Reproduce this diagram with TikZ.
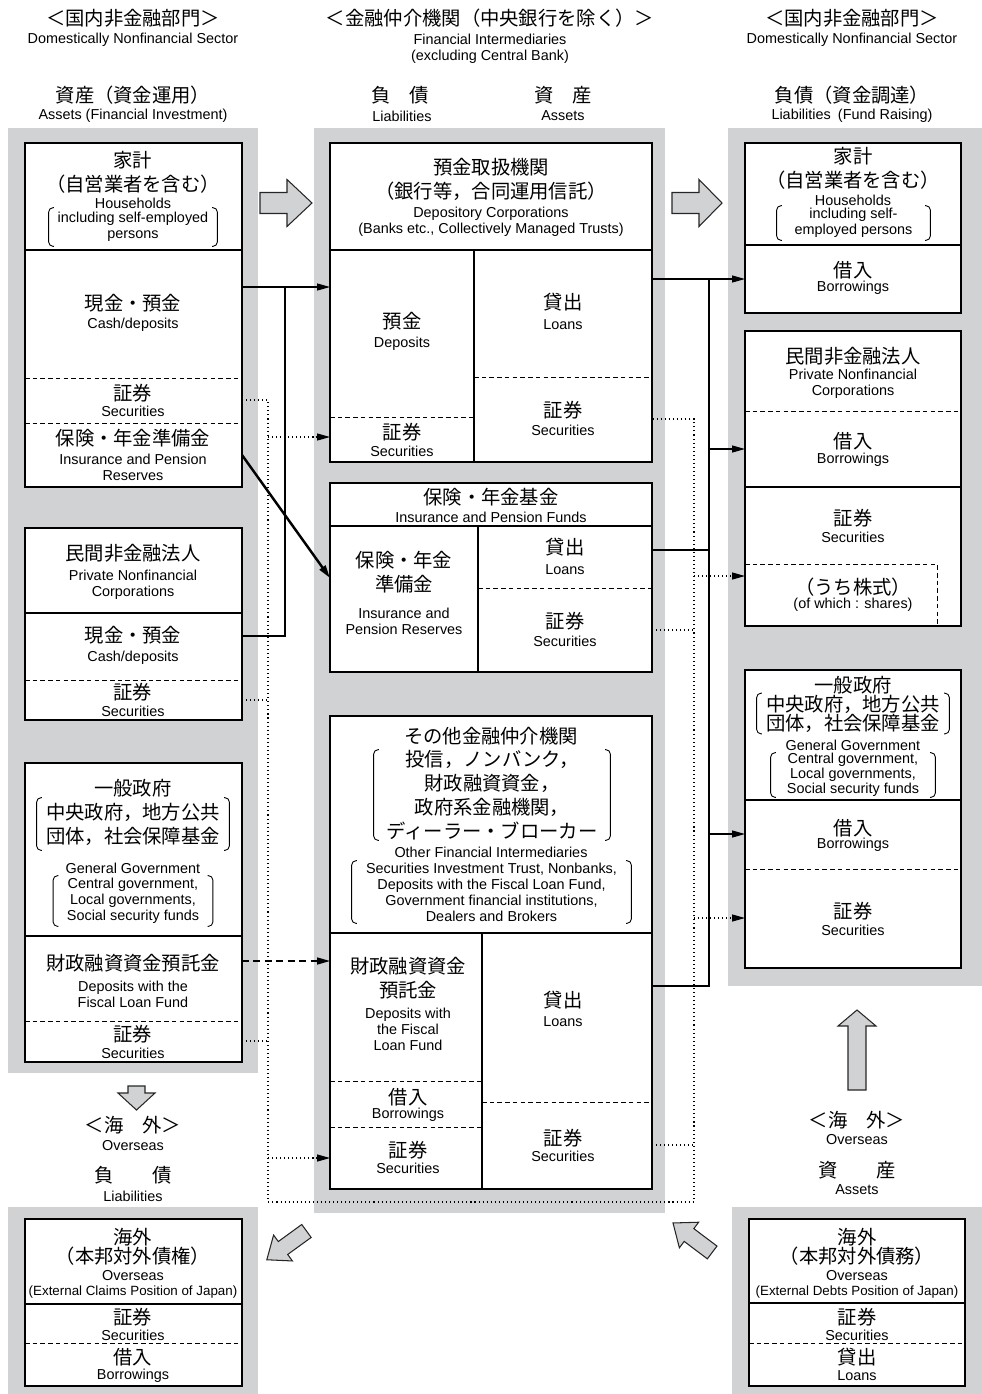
\documentclass[tikz,border=0pt]{standalone}
\usepackage{fontspec}
\setmainfont{Liberation Sans}
\newfontfamily\jpfont{Noto Sans CJK JP}
\usetikzlibrary{arrows.meta}

\definecolor{panelgray}{RGB}{209,210,212}
\newcommand{\jpsize}{\jpfont\fontsize{11}{13.6}\selectfont}
\newcommand{\jptight}{\jpfont\fontsize{11}{10.9}\selectfont\lineskiplimit=-20pt}
\newcommand{\ensize}{\fontsize{8.2}{9.07}\selectfont}
\newcommand{\entight}{\fontsize{8.2}{8.5}\selectfont\lineskiplimit=-20pt}
\newcommand{\ennarrow}{\fontsize{7.6}{9.07}\selectfont}

% round brackets drawn round a node
\newcommand{\drawparens}[1]{%
  \draw[line width=0.5pt, rounded corners=2.5pt]
    ([xshift=3pt]#1.north west) -- (#1.north west) -- (#1.south west) -- ([xshift=3pt]#1.south west)
    ([xshift=-3pt]#1.north east) -- (#1.north east) -- (#1.south east) -- ([xshift=-3pt]#1.south east);}

% fat gray arrow: origin (head base), angle, tail, head, half shaft, half head
\newcommand{\fatarrow}[6]{%
  \draw[fat, shift={#1}, rotate=#2] (-#3,-#5) -- (0,-#5) -- (0,-#6) -- (#4,0)
    -- (0,#6) -- (0,#5) -- (-#3,#5) -- cycle;}

\tikzset{
  jp/.style={font=\jpsize, align=center, inner sep=0pt},
  en/.style={font=\ensize, align=center, inner sep=0pt},
  brk/.style 2 args={minimum width=#1*0.02cm, minimum height=#2*0.02cm, inner sep=0pt},
  box/.style={draw, line width=1.1pt, fill=white},
  rule/.style={line width=0.6pt},
  dashrule/.style={line width=0.45pt, dash pattern=on 2.6pt off 1.8pt},
  link/.style={line width=0.6pt},
  flow/.style={line width=0.6pt, -{Triangle[length=7.4pt,width=4pt]}},
  dotline/.style={line width=0.6pt, dash pattern=on 0.6pt off 1.7pt},
  dotflow/.style={dotline, -{Triangle[length=7.4pt,width=4pt]}},
  dashflow/.style={line width=0.8pt, dash pattern=on 4pt off 2.5pt, -{Triangle[length=7.4pt,width=4pt]}},
  fat/.style={fill=panelgray, draw=black!85, line width=0.6pt, line join=miter},
}

\begin{document}
\begin{tikzpicture}[x=0.02cm, y=-0.02cm]
\useasboundingbox (0,0) rectangle (982,1394);

% Headers
\node[jp] (hLeft) at (133,18) {＜国内非金融部門＞};
\node[en] (hLeftEn) at (133,40) {Domestically Nonfinancial Sector};
\node[jp] (hMid) at (490,18) {＜金融仲介機関（中央銀行を除く）＞};
\node[en] (hMidEn) at (490,48.5) {Financial Intermediaries\\(excluding Central Bank)};
\node[jp] (hRight) at (852,18) {＜国内非金融部門＞};
\node[en] (hRightEn) at (852,40) {Domestically Nonfinancial Sector};

\node[jp] (sLeft) at (133,95) {資産（資金運用）};
\node[en] (sLeftEn) at (133,116) {Assets (Financial Investment)};
\node[jp] (sLiab) at (400,95) {負　債};
\node[en] (sLiabEn) at (402,116) {Liabilities};
\node[jp] (sAsset) at (563,95) {資　産};
\node[en] (sAssetEn) at (563,116) {Assets};
\node[jp] (sRight) at (852,95) {負債（資金調達）};
\node[en] (sRightEn) at (852,116) {Liabilities\enspace(Fund Raising)};

% Gray panels
\fill[panelgray] (8,128) rectangle (258,1073);
\fill[panelgray] (314,128) rectangle (665,1213);
\fill[panelgray] (728,128) rectangle (982,986);
\fill[panelgray] (8,1207) rectangle (258,1394);
\fill[panelgray] (732,1207) rectangle (982,1394);

% Boxes
\draw[box] (25,143) rectangle (242,487);
\draw[box] (25,528) rectangle (242,720);
\draw[box] (25,763) rectangle (242,1062);
\draw[box] (330,143) rectangle (652,462);
\draw[box] (330,483) rectangle (652,672);
\draw[box] (330,716) rectangle (652,1189);
\draw[box] (745,143) rectangle (961,313);
\draw[box] (745,331) rectangle (961,626);
\draw[box] (745,670) rectangle (961,968);
\draw[box] (25,1219) rectangle (242,1386);
\draw[box] (749,1219) rectangle (965,1386);

% Dividers, left column
\draw[rule] (25,250) -- (242,250);
\draw[dashrule] (25,378) -- (242,378);
\draw[dashrule] (25,423) -- (242,423);
\draw[rule] (25,613) -- (242,613);
\draw[dashrule] (25,680) -- (242,680);
\draw[rule] (25,936) -- (242,936);
\draw[dashrule] (25,1021) -- (242,1021);

% Dividers, middle column
\draw[rule] (330,250) -- (652,250);
\draw[rule] (474,250) -- (474,462);
\draw[dashrule] (330,417) -- (474,417);
\draw[dashrule] (474,377) -- (652,377);
\draw[rule] (330,526) -- (652,526);
\draw[rule] (478,526) -- (478,672);
\draw[dashrule] (478,588) -- (652,588);
\draw[rule] (330,933) -- (652,933);
\draw[rule] (482,933) -- (482,1189);
\draw[dashrule] (330,1081) -- (482,1081);
\draw[dashrule] (330,1127) -- (482,1127);
\draw[dashrule] (482,1102) -- (652,1102);

% Dividers, right column
\draw[rule] (745,245) -- (961,245);
\draw[dashrule] (745,411) -- (961,411);
\draw[rule] (745,487) -- (961,487);
\draw[dashrule] (745,564) -- (937,564) -- (937,626);
\draw[rule] (745,800) -- (961,800);
\draw[dashrule] (745,869) -- (961,869);

% Dividers, overseas
\draw[rule] (25,1304) -- (242,1304);
\draw[dashrule] (25,1343) -- (242,1343);
\draw[rule] (749,1303) -- (965,1303);
\draw[dashrule] (749,1343) -- (965,1343);

% Left column texts
\node[jp] (tHh) at (133,172.5) {家計\\（自営業者を含む）};
\node[en] (tHhEn) at (133,203) {Households};
\node[en, brk={168}{38}] (tHhPar) at (133,227) {including self-employed\\persons};
\drawparens{tHhPar}
\node[jp] (tHhCash) at (133,303) {現金・預金};
\node[en] (tHhCashEn) at (133,325) {Cash/deposits};
\node[jp] (tHhSec) at (133,393) {証券};
\node[en] (tHhSecEn) at (133,411) {Securities};
\node[jp] (tHhIns) at (133,438) {保険・年金準備金};
\node[en] (tHhInsEn) at (133,467) {Insurance and Pension\\Reserves};

\node[jp] (tPn) at (133,553) {民間非金融法人};
\node[en] (tPnEn) at (133,585) {Private Nonfinancial\\Corporations};
\node[jp] (tPnCash) at (133,635) {現金・預金};
\node[en] (tPnCashEn) at (133,658) {Cash/deposits};
\node[jp] (tPnSec) at (133,692) {証券};
\node[en] (tPnSecEn) at (133,711) {Securities};

\node[jp] (tGv) at (133,788) {一般政府};
\node[jp, brk={192}{52}] (tGvPar) at (133,824) {中央政府，地方公共\\団体，社会保障基金};
\drawparens{tGvPar}
\node[en] (tGvEn) at (133,868) {General Government};
\node[en, brk={159}{50}] (tGvParEn) at (133,901) {Central government,\\Local governments,\\Social security funds};
\drawparens{tGvParEn}
\node[jp] (tGvFlf) at (133,963) {財政融資資金預託金};
\node[en] (tGvFlfEn) at (133,994) {Deposits with the\\Fiscal Loan Fund};
\node[jp] (tGvSec) at (133,1034) {証券};
\node[en] (tGvSecEn) at (133,1053) {Securities};

% Middle column texts
\node[jp] (tDep) at (491,179) {預金取扱機関\\（銀行等，合同運用信託）};
\node[en] (tDepEn) at (491,222) {Depository Corporations\\(Banks etc., Collectively Managed Trusts)};
\node[jp] (tDepDep) at (402,321) {預金};
\node[en] (tDepDepEn) at (402,344) {Deposits};
\node[jp] (tDepSecL) at (402,432) {証券};
\node[en] (tDepSecLEn) at (402,451) {Securities};
\node[jp] (tDepLoan) at (563,302) {貸出};
\node[en] (tDepLoanEn) at (563,325) {Loans};
\node[jp] (tDepSec) at (563,410) {証券};
\node[en] (tDepSecEn) at (563,430) {Securities};

\node[jp] (tIns) at (491,497) {保険・年金基金};
\node[en] (tInsEn) at (491,517) {Insurance and Pension Funds};
\node[jp] (tInsRes) at (404,572) {保険・年金\\準備金};
\node[en] (tInsResEn) at (404,621) {Insurance and\\Pension Reserves};
\node[jp] (tInsLoan) at (565,547) {貸出};
\node[en] (tInsLoanEn) at (565,570) {Loans};
\node[jp] (tInsSec) at (565,621) {証券};
\node[en] (tInsSecEn) at (565,641) {Securities};

\node[jp] (tOfi) at (491,736) {その他金融仲介機関};
\node[jp, brk={236}{90}] (tOfiPar) at (492,795) {投信，ノンバンク，\\財政融資資金，\\政府系金融機関，\\ディーラー・ブローカー};
\drawparens{tOfiPar}
\node[en] (tOfiEn) at (491,852) {Other Financial Intermediaries};
\node[en, brk={279}{62}] (tOfiParEn) at (491.5,892) {Securities Investment Trust, Nonbanks,\\Deposits with the Fiscal Loan Fund,\\Government financial institutions,\\Dealers and Brokers};
\drawparens{tOfiParEn}
\node[jp] (tOfiFlf) at (408,978) {財政融資資金\\預託金};
\node[en] (tOfiFlfEn) at (408,1029) {Deposits with\\the Fiscal\\Loan Fund};
\node[jp] (tOfiBor) at (408,1097) {借入};
\node[en] (tOfiBorEn) at (408,1115) {Borrowings};
\node[jp] (tOfiSecL) at (408,1150) {証券};
\node[en] (tOfiSecLEn) at (408,1168) {Securities};
\node[jp] (tOfiLoan) at (563,1000) {貸出};
\node[en] (tOfiLoanEn) at (563,1022) {Loans};
\node[jp] (tOfiSec) at (563,1138) {証券};
\node[en] (tOfiSecEn) at (563,1156) {Securities};

% Right column texts
\node[jp] (tRh) at (853,168.5) {家計\\（自営業者を含む）};
\node[en] (tRhEn) at (853,200) {Households};
\node[en, brk={153}{34}] (tRhPar) at (853.5,223) {including self-\\employed persons};
\drawparens{tRhPar}
\node[jp] (tRhBor) at (853,270) {借入};
\node[en] (tRhBorEn) at (853,288) {Borrowings};

\node[jp] (tRp) at (853,356) {民間非金融法人};
\node[en] (tRpEn) at (853,384) {Private Nonfinancial\\Corporations};
\node[jp] (tRpBor) at (853,441) {借入};
\node[en] (tRpBorEn) at (853,460) {Borrowings};
\node[jp] (tRpSec) at (853,518) {証券};
\node[en] (tRpSecEn) at (853,537) {Securities};
\node[jp] (tRpShr) at (853,587) {（うち株式）};
\node[en] (tRpShrEn) at (853,605) {(of which : shares)};

\node[jp] (tRg) at (853,685) {一般政府};
\node[jp, font=\jptight, brk={192}{40}] (tRgPar) at (853,713.5) {中央政府，地方公共\\団体，社会保障基金};
\drawparens{tRgPar}
\node[en] (tRgEn) at (853,745) {General Government};
\node[en, font=\entight, brk={164}{44}] (tRgParEn) at (853,775) {Central government,\\Local governments,\\Social security funds};
\drawparens{tRgParEn}
\node[jp] (tRgBor) at (853,828) {借入};
\node[en] (tRgBorEn) at (853,845) {Borrowings};
\node[jp] (tRgSec) at (853,911) {証券};
\node[en] (tRgSecEn) at (853,930) {Securities};

% Overseas texts
\node[jp] (oLeft) at (133,1125) {＜海　外＞};
\node[en] (oLeftEn) at (133,1146) {Overseas};
\node[jp] (oLiab) at (133,1175) {負　　債};
\node[en] (oLiabEn) at (133,1196) {Liabilities};
\node[jp] (oRight) at (857,1120) {＜海　外＞};
\node[en] (oRightEn) at (857,1140) {Overseas};
\node[jp] (oAsset) at (857,1170) {資　　産};
\node[en] (oAssetEn) at (857,1190) {Assets};

\node[jp, font=\jptight] (tOc) at (133,1246.5) {海外\\（本邦対外債権）};
\node[en] (tOcEn) at (133,1276) {Overseas};
\node[en, font=\ennarrow] (tOcEn2) at (133,1292) {(External Claims Position of Japan)};
\node[jp] (tOcSec) at (133,1317) {証券};
\node[en] (tOcSecEn) at (133,1335) {Securities};
\node[jp] (tOcBor) at (133,1357) {借入};
\node[en] (tOcBorEn) at (133,1376) {Borrowings};

\node[jp, font=\jptight] (tOd) at (857,1246.5) {海外\\（本邦対外債務）};
\node[en] (tOdEn) at (857,1276) {Overseas};
\node[en, font=\ennarrow] (tOdEn2) at (857,1292) {(External Debts Position of Japan)};
\node[jp] (tOdSec) at (857,1317) {証券};
\node[en] (tOdSecEn) at (857,1335) {Securities};
\node[jp] (tOdLoan) at (857,1357) {貸出};
\node[en] (tOdLoanEn) at (857,1376) {Loans};

% Connection points
\coordinate (pHhCash) at (242,287);
\coordinate (pDepDep) at (330,287);
\coordinate (jCash) at (285,287);
\coordinate (pPnCash) at (242,636);
\coordinate (pHhIns) at (242,455);
\coordinate (pInsRes) at (330,578);
\coordinate (pGvFlf) at (242,961);
\coordinate (pOfiFlf) at (330,961);

\coordinate (pHhSec) at (242,400);
\coordinate (dotL) at (268,400);
\coordinate (dotLB) at (268,1202);
\coordinate (dotRB) at (694,1202);
\coordinate (dotR) at (694,419);
\coordinate (pDepSec) at (652,419);
\coordinate (pDepSecL) at (330,437);
\coordinate (pPnSec) at (242,700);
\coordinate (pGvSec) at (242,1041);
\coordinate (pOfiSecL) at (330,1158);
\coordinate (pInsSec) at (652,630);
\coordinate (pOfiSec) at (652,1145);
\coordinate (pRpShr) at (745,576);
\coordinate (pRgSec) at (745,918);

\coordinate (pDepLoan) at (652,279);
\coordinate (pRhBor) at (745,279);
\coordinate (jLoan) at (709,279);
\coordinate (jLoanB) at (709,986);
\coordinate (pOfiLoan) at (652,986);
\coordinate (pInsLoan) at (652,550);
\coordinate (pRpBor) at (745,449);
\coordinate (pRgBor) at (745,834);

% Cash/deposits into deposits
\draw[flow] (pHhCash) -- (pDepDep);
\draw[link] (pPnCash) -| (jCash);

% Insurance reserves and fiscal loan deposits
\draw[flow, line width=1.4pt] (pHhIns) -- (pInsRes);
\draw[dashflow] (pGvFlf) -- (pOfiFlf);

% Securities (dotted loop)
\draw[dotline] (pHhSec) -- (dotL) -- (dotLB) -- (dotRB) -- (dotR) -- (pDepSec);
\draw[dotflow] (dotL |- pDepSecL) -- (pDepSecL);
\draw[dotline] (pPnSec) -- (dotL |- pPnSec);
\draw[dotline] (pGvSec) -- (dotL |- pGvSec);
\draw[dotflow] (dotL |- pOfiSecL) -- (pOfiSecL);
\draw[dotline] (pInsSec) -- (dotR |- pInsSec);
\draw[dotline] (pOfiSec) -- (dotR |- pOfiSec);
\draw[dotflow] (dotR |- pRpShr) -- (pRpShr);
\draw[dotflow] (dotR |- pRgSec) -- (pRgSec);

% Loans into borrowings
\draw[flow] (pDepLoan) -- (pRhBor);
\draw[link] (jLoan) -- (jLoanB) -- (pOfiLoan);
\draw[link, line width=1.2pt] (pInsLoan) -- (jLoan |- pInsLoan);
\draw[flow] (jLoan |- pRpBor) -- (pRpBor);
\draw[flow] (jLoan |- pRgBor) -- (pRgBor);

% Fat arrows
\fatarrow{(287,203)}{0}{27}{25}{10.5}{23.5}
\fatarrow{(699,203)}{0}{27}{23}{10.5}{23.5}
\fatarrow{(136.5,1093)}{-90}{7}{17}{8.5}{18.5}
\fatarrow{(857,1026)}{90}{64}{16}{9}{19}
\fatarrow{(283,1248)}{216}{29}{20}{8}{16}
\fatarrow{(689,1235)}{143}{29}{20}{8}{16}
\end{tikzpicture}
\end{document}
